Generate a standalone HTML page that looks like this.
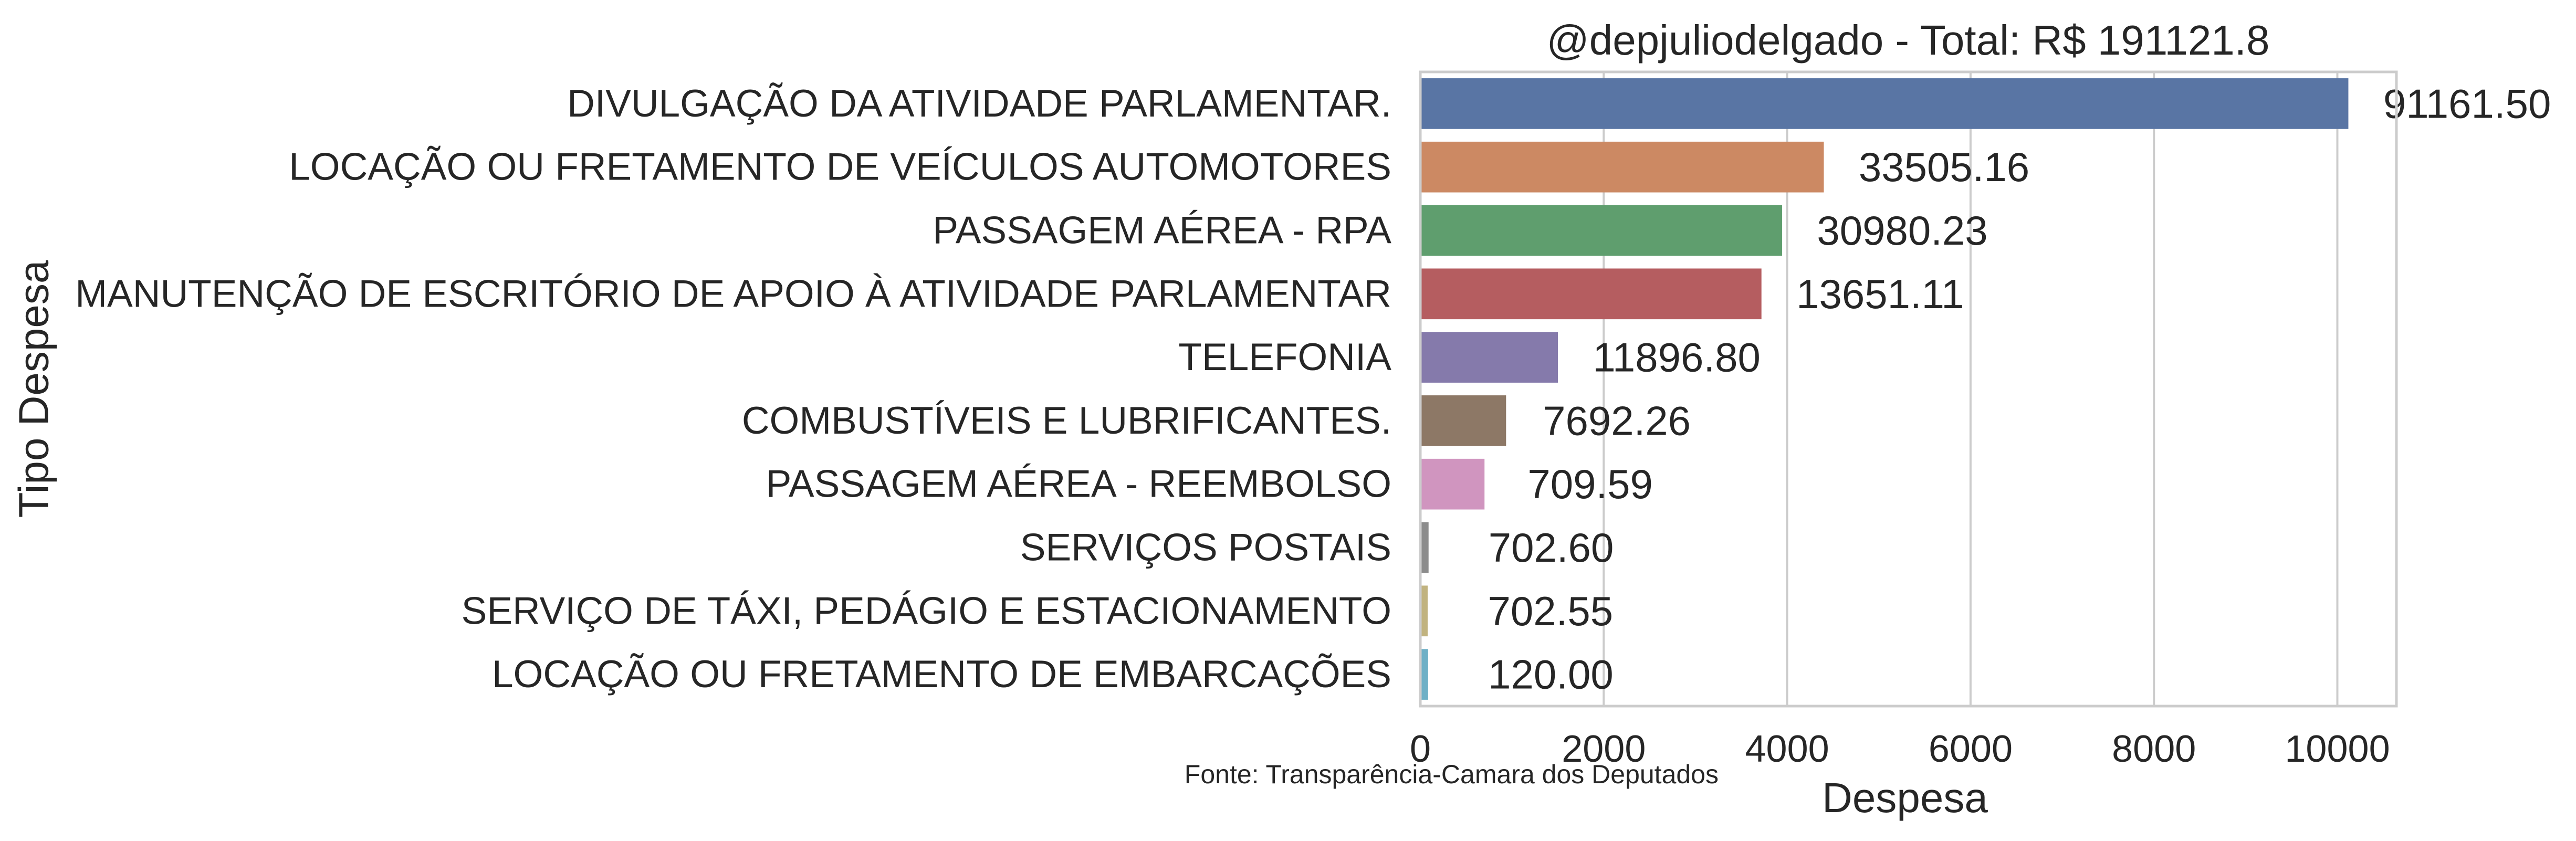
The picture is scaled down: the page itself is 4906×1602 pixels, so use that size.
<!DOCTYPE html>
<html><head><meta charset="utf-8"><style>
html,body{margin:0;padding:0;background:#fff;}
svg{display:block;font-family:"Liberation Sans",sans-serif;}
</style></head><body>
<svg id="chart" width="4906" height="1602" viewBox="0 0 4906 1602">
<g id="grid"></g>
<g id="bars"></g>
<g id="labels"></g>
<g id="cats"></g>
<g id="xticks"></g>
<rect x="2705" y="137" width="1859" height="1208" fill="none" stroke="#cccccc" stroke-width="5"/>
<text x="3634" y="104" font-size="80" text-anchor="middle" fill="#262626">@depjuliodelgado - Total: R$ 191121.8</text>
<text x="3628" y="1547" font-size="80" text-anchor="middle" fill="#262626">Despesa</text>
<text x="0" y="0" transform="translate(64,741) rotate(-90)" font-size="80" text-anchor="middle" dominant-baseline="central" fill="#262626">Tipo Despesa</text>
<text x="3273" y="1492" font-size="50" text-anchor="end" fill="#262626">Fonte: Transparência-Camara dos Deputados</text>
</svg>
<script>
const categories = ["DIVULGAÇÃO DA ATIVIDADE PARLAMENTAR.","LOCAÇÃO OU FRETAMENTO DE VEÍCULOS AUTOMOTORES","PASSAGEM AÉREA - RPA","MANUTENÇÃO DE ESCRITÓRIO DE APOIO À ATIVIDADE PARLAMENTAR","TELEFONIA","COMBUSTÍVEIS E LUBRIFICANTES.","PASSAGEM AÉREA - REEMBOLSO","SERVIÇOS POSTAIS","SERVIÇO DE TÁXI, PEDÁGIO E ESTACIONAMENTO","LOCAÇÃO OU FRETAMENTO DE EMBARCAÇÕES"];
const values = [10120, 4400, 3945, 3720, 1500, 935, 700, 90, 80, 85];
const valueLabels = ["91161.50","33505.16","30980.23","13651.11","11896.80","7692.26","709.59","702.60","702.55","120.00"];
const xTicks = [0,2000,4000,6000,8000,10000];
const colors = ["#5975a4","#cc8963","#5f9e6e","#b55d60","#857aab","#8d7866","#d095bf","#8c8c8c","#c1b37f","#6fb0c6"];
const NS="http://www.w3.org/2000/svg";
const L=2705,R=4564,T=137,B=1345;
const xs=v=>L+v*0.17465;
const band=(B-T)/categories.length;
const yc=i=>T+band*(i+0.5);
function mk(tag,attrs,parent,text){const e=document.createElementNS(NS,tag);for(const k in attrs)e.setAttribute(k,attrs[k]);if(text!==undefined)e.textContent=text;document.getElementById(parent).appendChild(e);return e;}
xTicks.forEach(t=>{
  const g=mk("line",{x1:xs(t),x2:xs(t),y1:T,y2:B,stroke:"#cccccc","stroke-width":4},"grid");
  
  
  const tx=mk("text",{x:xs(t),y:1451,"font-size":72,"text-anchor":"middle",fill:"#262626"},"xticks",String(t));
  
  
});
categories.forEach((c,i)=>{
  const h=band*0.8;
  const b=mk("rect",{x:L,y:yc(i)-h/2,width:xs(values[i])-L,height:h,fill:colors[i]},"bars");
  
  
  const off=380+Math.max(0,1000-values[i])*0.3;
  const lb=mk("text",{x:xs(values[i]+off),y:yc(i),"font-size":78,"dominant-baseline":"central",fill:"#262626"},"labels",valueLabels[i]);
  
  
  const ct=mk("text",{x:2650,y:yc(i),"font-size":73,"text-anchor":"end","dominant-baseline":"central",fill:"#262626"},"cats",c);
  
  
});
</script>
</body></html>
